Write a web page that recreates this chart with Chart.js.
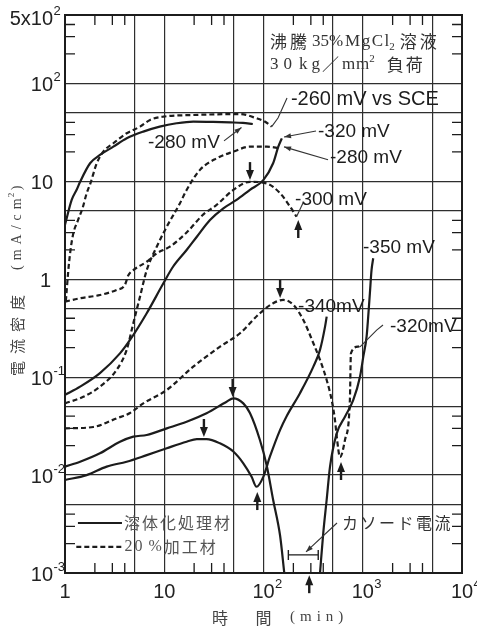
<!DOCTYPE html>
<html>
<head>
<meta charset="utf-8">
<script src="https://cdn.jsdelivr.net/npm/chart.js@4"></script>
<style>
  html, body { margin: 0; padding: 0; background: #fff; }
  canvas { display: block; }
</style>
</head>
<body>
<canvas id="c" width="477" height="629"></canvas>
<script>
// Time (min) and current density (mA/cm²) per potential.
// "s" = 溶体化処理材 (solid lines), "w" = 20%加工材 (dashed lines)
const tS280 = [1, 1.17, 1.31, 1.42, 1.79, 2.25, 3.07, 4.19, 6.15, 9.0, 13.3, 19.6, 31, 46, 62, 78];
const iS280 = [3.6, 6.5, 8.2, 9.9, 15.3, 18.6, 22.6, 27.5, 32.2, 36.2, 39.2, 40.8, 40.5, 40, 39.5, 38.5];

const tS320 = [1, 1.42, 2.25, 3.58, 4.52, 6.66, 9.8, 12.3, 16.8, 21.3, 28.9, 39.4, 53.5, 73, 99.5, 125, 141, 153];
const iS320 = [0.066, 0.080, 0.110, 0.175, 0.24, 0.45, 0.91, 1.35, 1.99, 2.72, 4.03, 5.31, 6.46, 8.2, 10.3, 15.3, 22.6, 27.5];

const tS350a = [1, 1.42, 2.25, 3.58, 4.88, 6.66, 10.6, 16.8, 26.7, 42.5, 49.6, 62.6, 73, 92, 108, 125, 147, 162];
const iS350a = [0.0122, 0.0137, 0.0167, 0.0219, 0.0247, 0.0257, 0.030, 0.0351, 0.0428, 0.0562, 0.0608, 0.054, 0.043, 0.0228, 0.0124, 0.0056, 0.0024, 0.001];

const tS350b = [371, 400, 433, 468, 547, 662, 803, 938, 1013, 1093, 1135, 1180, 1226, 1275];
const iS350b = [0.001, 0.00255, 0.0056, 0.0122, 0.0267, 0.0395, 0.0585, 0.101, 0.162, 0.259, 0.415, 0.72, 1.24, 1.64];

const tS340 = [1, 1.65, 2.63, 4.18, 6.66, 10.6, 16.8, 21.3, 26.7, 36.4, 49.6, 62.6, 75.9, 85, 99.5, 116, 147, 170, 233, 318, 371, 417, 433];
const iS340 = [0.0089, 0.010, 0.0122, 0.0137, 0.016, 0.0188, 0.0219, 0.0233, 0.0233, 0.0211, 0.0174, 0.0132, 0.0096, 0.0076, 0.0096, 0.0154, 0.029, 0.0395, 0.0686, 0.128, 0.19, 0.328, 0.415];

const tW260 = [1.02, 1.1, 1.2, 1.35, 1.5, 1.65, 1.8, 2.09, 2.43, 3.07, 4.19, 5.7, 7.2, 9.8, 19.6, 58, 85, 103, 121];
const iW260 = [0.6, 1.5, 2.8, 4.0, 5.3, 7.5, 9.5, 15.3, 20.1, 24.5, 31, 36.2, 42.4, 45.8, 47.6, 48.7, 44.1, 40.8, 36.2];

const tW280 = [1, 1.53, 2.25, 3.32, 4.18, 4.88, 5.7, 6.66, 8.4, 10.6, 14.4, 16.8, 22.9, 33.7, 49.6, 73, 108, 147];
const iW280 = [0.054, 0.063, 0.080, 0.119, 0.19, 0.356, 0.665, 1.24, 2.15, 3.44, 5.97, 8.17, 13.1, 17.2, 20.1, 22.6, 22.6, 21.8];

const tW300 = [1, 1.42, 2.25, 3.32, 4.0, 4.35, 4.88, 6.66, 8.4, 11.4, 16.8, 24.8, 33.7, 49.6, 73, 108, 147, 185, 215];
const iW300 = [0.59, 0.64, 0.69, 0.78, 0.87, 1.1, 1.24, 1.51, 1.84, 2.15, 3.0, 4.6, 5.74, 8.17, 9.9, 9.5, 7.56, 5.52, 4.36];

const tW320 = [1, 1.93, 3.32, 4.52, 6.15, 10.6, 19.6, 36.5, 58, 92, 125, 158, 200, 252, 318, 371, 433, 486, 525, 547, 590, 662, 742, 760, 902, 938];
const iW320 = [0.030, 0.031, 0.038, 0.043, 0.054, 0.074, 0.128, 0.205, 0.281, 0.45, 0.569, 0.615, 0.547, 0.384, 0.222, 0.15, 0.0936, 0.0585, 0.0366, 0.0247, 0.0153, 0.0228, 0.0585, 0.175, 0.205, 0.21];

// Axis grid and tick labels
const xGrid = [5, 10, 50, 100, 500, 1000, 5000];
const yGrid = [0.005, 0.01, 0.05, 0.1, 0.5, 1, 5, 10, 50, 100];
const xTickValues = [1, 10, 100, 1000, 10000];
const xTickText = ['1', '10', '10^2', '10^3', '10^4'];
const yTickValues = [500, 100, 10, 1, 0.1, 0.01, 0.001];
const yTickText = ['5x10^2', '10^2', '10', '1', '10^-1', '10^-2', '10^-3'];

// Potential labels, leader lines and arrow markers (time, current)
const curveLabels = [
  { text: '-260 mV vs SCE', t: 189, i: 67.8, size: 20 },
  { text: '-320 mV', t: 354, i: 32, size: 19 },
  { text: '-280 mV', t: 468, i: 17.4, size: 19 },
  { text: '-280 mV', t: 6.86, i: 24.7, size: 19 },
  { text: '-300 mV', t: 208, i: 6.46, size: 19 },
  { text: '-350 mV', t: 1006, i: 2.09, size: 19 },
  { text: '-340mV', t: 223, i: 0.52, size: 19 },
  { text: '-320mV', t: 1883, i: 0.326, size: 19 }
];
const leaders = [
  { pts: [[40, 25.9], [60, 35.5]], head: true },
  { pts: [[121, 36.2], [140, 44.4], [172.6, 71.1]], head: false },
  { pts: [[338, 32.7], [161, 28.4]], head: true },
  { pts: [[447, 16.6], [161, 22.5]], head: true },
  { pts: [[215, 4.36], [250, 6.0]], head: false },
  { pts: [[938, 0.204], [1381, 0.303], [1600, 0.341]], head: false },
  { pts: [[550, 0.00324], [268, 0.00164]], head: true }
];
const markers = [
  { t: 73.1, i: 10.3, up: false },
  { t: 224, i: 4.03, up: true },
  { t: 147, i: 0.644, up: false },
  { t: 48.9, i: 0.0628, up: false },
  { t: 25.1, i: 0.0245, up: false },
  { t: 86.6, i: 0.00671, up: true },
  { t: 604, i: 0.0136, up: true },
  { t: 289, i: 0.00095, up: true }
];
const cathodicSpan = [178, 356];
const cathodicLevel = 0.00153;

const ink = '#1c1c1c';
const sans = '"Liberation Sans", Arial, sans-serif';
const serif = '"Liberation Serif", "DejaVu Serif", serif';
const cjk = '"Noto Sans CJK JP", sans-serif';

const series = [
  { t: tS280, i: iS280, dashed: false },
  { t: tS320, i: iS320, dashed: false },
  { t: tS350a, i: iS350a, dashed: false },
  { t: tS350b, i: iS350b, dashed: false },
  { t: tS340, i: iS340, dashed: false },
  { t: tW260, i: iW260, dashed: true },
  { t: tW280, i: iW280, dashed: true },
  { t: tW300, i: iW300, dashed: true },
  { t: tW320, i: iW320, dashed: true }
];

// draws a string char by char with extra spacing; returns end x
function spaced(ctx, text, x, y, gap) {
  let cx = x;
  for (const ch of text) {
    ctx.fillText(ch, cx, y);
    cx += ctx.measureText(ch).width + gap;
  }
  return cx - gap;
}

// piece list: [text, font, gapAfter, dy, letterSpacing]
function run(ctx, pieces, x, y) {
  let cx = x;
  for (const [text, font, gap, dy, sp] of pieces) {
    ctx.font = font;
    cx = spaced(ctx, text, cx, y + (dy || 0), sp || 0) + gap;
  }
  return cx;
}

function powText(ctx, label, px, py, align) {
  const [base, exp] = label.split('^');
  ctx.font = '20px ' + sans;
  ctx.textBaseline = 'middle';
  const w = ctx.measureText(base).width;
  let left = align === 'center' ? px - w / 2 : px - w;
  ctx.textAlign = 'left';
  ctx.fillText(base, left, py);
  if (exp) {
    ctx.font = '13px ' + sans;
    ctx.fillText(exp, left + w + 0.5, py - 8);
  }
}

function arrowHead(ctx, x0, y0, x1, y1, len, half) {
  const ang = Math.atan2(y1 - y0, x1 - x0);
  ctx.beginPath();
  ctx.moveTo(x1, y1);
  ctx.lineTo(x1 - len * Math.cos(ang) + half * Math.sin(ang), y1 - len * Math.sin(ang) - half * Math.cos(ang));
  ctx.lineTo(x1 - len * Math.cos(ang) - half * Math.sin(ang), y1 - len * Math.sin(ang) + half * Math.cos(ang));
  ctx.closePath();
  ctx.fill();
}

const paper = {
  id: 'paper',
  afterDraw(chart) {
    const { ctx, chartArea: a, scales } = chart;
    const X = v => scales.x.getPixelForValue(v);
    const Y = v => scales.y.getPixelForValue(v);
    ctx.save();
    ctx.strokeStyle = ink;
    ctx.fillStyle = ink;

    // frame
    ctx.lineWidth = 2;
    ctx.strokeRect(a.left, a.top, a.right - a.left, a.bottom - a.top);

    // inward minor ticks at 2,3,4 of each decade
    ctx.lineWidth = 1.3;
    ctx.beginPath();
    for (const d of [1, 10, 100, 1000]) {
      for (const m of [2, 3, 4]) {
        const px = X(m * d);
        ctx.moveTo(px, a.bottom); ctx.lineTo(px, a.bottom - 10);
        ctx.moveTo(px, a.top); ctx.lineTo(px, a.top + 10);
      }
    }
    for (const d of [0.001, 0.01, 0.1, 1, 10, 100]) {
      for (const m of [2, 3, 4]) {
        const py = Y(m * d);
        ctx.moveTo(a.left, py); ctx.lineTo(a.left + 10, py);
        ctx.moveTo(a.right, py); ctx.lineTo(a.right - 10, py);
      }
    }
    ctx.stroke();

    // tick labels
    ctx.fillStyle = '#222';
    xTickValues.forEach((v, k) => powText(ctx, xTickText[k], X(v), a.bottom + 19, 'center'));
    yTickValues.forEach((v, k) => {
      const py = Y(v) + (v === 500 ? 4 : 2);
      powText(ctx, yTickText[k], v === 1 ? 51 : 53, py, 'right');
    });

    // axis titles
    ctx.fillStyle = '#444';
    ctx.textBaseline = 'middle';
    ctx.textAlign = 'center';
    ctx.font = '16px ' + cjk;
    ctx.fillText('時', X(36.5), a.bottom + 45);
    ctx.fillText('間', X(100), a.bottom + 45);
    ctx.textAlign = 'left';
    ctx.font = '15px ' + serif;
    spaced(ctx, '(min)', X(185), a.bottom + 44, 5);

    ctx.save();
    ctx.translate(17, 378);
    ctx.rotate(-Math.PI / 2);
    ctx.textBaseline = 'middle';
    ctx.font = '15px ' + cjk;
    '電流密度'.split('').forEach((ch, k) => ctx.fillText(ch, 2 + k * 22, 0));
    ctx.font = '14px ' + serif;
    let ex = spaced(ctx, '(mA/cm', 108, 0, 5);
    ctx.font = '9px ' + serif;
    ctx.fillText('2', ex + 1, -5);
    ctx.font = '14px ' + serif;
    ctx.fillText(')', ex + 8, 0);
    ctx.restore();

    // test condition note
    ctx.fillStyle = '#333';
    ctx.textBaseline = 'middle';
    const f17c = '17px ' + cjk, f17s = '17px ' + serif, f11s = '11px ' + serif;
    run(ctx, [
      ['沸騰', f17c, 5, 0, 3],
      ['35%', f17s, 2, 0, 0],
      ['MgCl', f17s, 0, 0, 1.5],
      ['2', f11s, 5, 5, 0],
      ['溶液', f17c, 0, 0, 3]
    ], X(116), Y(265));
    run(ctx, [
      ['30', f17s, 7, 0, 5],
      ['kg', f17s, 2, 0, 4],
      ['／', f17c, 3, 0, 0],
      ['mm', f17s, 0, 0, 1],
      ['2', f11s, 12, -6, 0],
      ['負荷', f17c, 0, 0, 2]
    ], X(116), Y(154.5));

    // legend
    ctx.strokeStyle = ink;
    ctx.lineWidth = 2.2;
    ctx.beginPath();
    ctx.moveTo(X(1.35), Y(0.00324)); ctx.lineTo(X(3.75), Y(0.00324));
    ctx.stroke();
    ctx.setLineDash([5, 3]);
    ctx.beginPath();
    ctx.moveTo(X(1.3), Y(0.00185)); ctx.lineTo(X(3.85), Y(0.00185));
    ctx.stroke();
    ctx.setLineDash([]);
    ctx.fillStyle = '#555';
    ctx.font = '16px ' + cjk;
    spaced(ctx, '溶体化処理材', X(3.93), Y(0.00324), 2);
    run(ctx, [
      ['20', '16px ' + serif, 6, 0, 2],
      ['%', '16px ' + serif, 2, 0, 0],
      ['加工材', '16px ' + cjk, 0, 0, 2]
    ], X(3.98), Y(0.00185));

    // potential labels
    ctx.fillStyle = ink;
    ctx.textAlign = 'left';
    ctx.textBaseline = 'middle';
    for (const l of curveLabels) {
      ctx.font = l.size + 'px ' + sans;
      ctx.fillText(l.text, X(l.t), Y(l.i));
    }
    ctx.fillStyle = '#333';
    ctx.font = '16px ' + cjk;
    spaced(ctx, 'カソード電流', X(618), Y(0.00324), 2.5);

    // leader lines
    ctx.strokeStyle = '#333';
    ctx.fillStyle = '#333';
    ctx.lineWidth = 1.1;
    for (const ld of leaders) {
      const p = ld.pts.map(([t, i]) => [X(t), Y(i)]);
      ctx.beginPath();
      ctx.moveTo(p[0][0], p[0][1]);
      for (let k = 1; k < p.length; k++) ctx.lineTo(p[k][0], p[k][1]);
      ctx.stroke();
      if (ld.head) {
        const n = p.length;
        arrowHead(ctx, p[n - 2][0], p[n - 2][1], p[n - 1][0], p[n - 1][1], 7, 2.5);
      }
    }

    // cathodic current interval
    ctx.strokeStyle = ink;
    ctx.lineWidth = 1.4;
    const cx0 = X(cathodicSpan[0]), cx1 = X(cathodicSpan[1]), cy = Y(cathodicLevel);
    ctx.beginPath();
    ctx.moveTo(cx0, cy); ctx.lineTo(cx1, cy);
    ctx.moveTo(cx0, cy - 5); ctx.lineTo(cx0, cy + 5);
    ctx.moveTo(cx1, cy - 5); ctx.lineTo(cx1, cy + 5);
    ctx.stroke();

    // arrows marking maxima / minima
    ctx.fillStyle = ink;
    ctx.strokeStyle = ink;
    for (const m of markers) {
      const px = X(m.t), py = Y(m.i), dir = m.up ? -1 : 1;
      ctx.lineWidth = 2.4;
      ctx.beginPath();
      ctx.moveTo(px, py - dir * 18);
      ctx.lineTo(px, py - dir * 8);
      ctx.stroke();
      ctx.beginPath();
      ctx.moveTo(px, py);
      ctx.lineTo(px - 4, py - dir * 10);
      ctx.lineTo(px + 4, py - dir * 10);
      ctx.closePath();
      ctx.fill();
    }
    ctx.restore();
  }
};

const gridStyle = { color: '#2e2e2e', lineWidth: 1.2, drawTicks: false };

new Chart(document.getElementById('c'), {
  type: 'line',
  data: {
    datasets: series.map(s => ({
      data: s.t.map((t, k) => ({ x: t, y: s.i[k] })),
      borderColor: ink,
      borderWidth: 2.2,
      borderDash: s.dashed ? [5, 3] : [],
      pointRadius: 0,
      cubicInterpolationMode: 'monotone',
      fill: false
    }))
  },
  options: {
    responsive: false,
    animation: false,
    devicePixelRatio: 1,
    layout: { padding: { left: 65, right: 15, top: 15, bottom: 56 } },
    plugins: { legend: { display: false }, tooltip: { enabled: false } },
    scales: {
      x: {
        type: 'logarithmic', min: 1, max: 10000,
        ticks: { display: false },
        grid: gridStyle,
        border: { display: false },
        afterBuildTicks: ax => { ax.ticks = xGrid.map(v => ({ value: v })); }
      },
      y: {
        type: 'logarithmic', min: 0.001, max: 500,
        ticks: { display: false },
        grid: gridStyle,
        border: { display: false },
        afterBuildTicks: ax => { ax.ticks = yGrid.map(v => ({ value: v })); }
      }
    }
  },
  plugins: [paper]
});
</script>
</body>
</html>
